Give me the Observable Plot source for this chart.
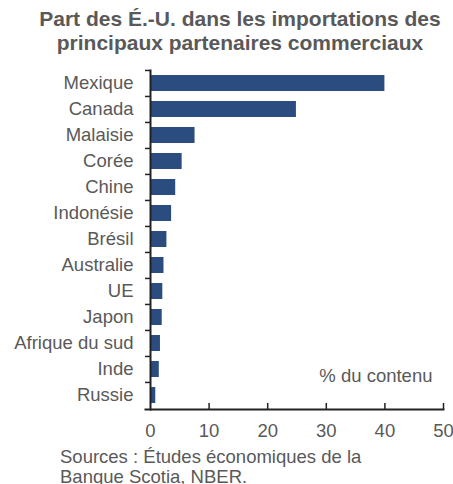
<!DOCTYPE html>
<html>
<head>
<meta charset="utf-8">
<script src="https://cdn.jsdelivr.net/npm/d3@7"></script>
<script src="https://cdn.jsdelivr.net/npm/@observablehq/plot@0.6"></script>
<style>
  html, body { margin: 0; padding: 0; background: #fff; }
  body { width: 453px; height: 484px; position: relative; overflow: hidden; font-family: "Liberation Sans", Arial, sans-serif; }
  #title { position: absolute; left: 27px; width: 426px; top: 7px; text-align: center; font-weight: bold; font-size: 21px; line-height: 24px; color: #595959; white-space: nowrap; }
  #caption { position: absolute; left: 60px; top: 447px; font-size: 18.5px; line-height: 20px; color: #595959; white-space: nowrap; }
  #chart { position: absolute; left: 0; top: 0; }
</style>
</head>
<body>
<div id="chart"></div>
<div id="title">Part des É.-U. dans les importations des<br>principaux partenaires commerciaux</div>
<div id="caption">Sources : Études économiques de la<br>Banque Scotia, NBER.</div>
<script>
const categories = ["Mexique", "Canada", "Malaisie", "Corée", "Chine", "Indonésie", "Brésil", "Australie", "UE", "Japon", "Afrique du sud", "Inde", "Russie"];
const values = [40.0, 24.9, 7.6, 5.4, 4.3, 3.6, 2.8, 2.3, 2.1, 2.0, 1.7, 1.5, 0.9];
const xTicks = [0, 10, 20, 30, 40, 50];
const unitLabel = "% du contenu";

const data = categories.map((c, i) => ({country: c, value: values[i]}));

const W = 453, H = 484, mTop = 70, mBottom = 75, mLeft = 150, mRight = 10;
const step = (H - mTop - mBottom) / categories.length;
const grey = "#595959";
const axisColor = "#222";
const fs = 18.5;

const chart = Plot.plot({
  width: W,
  height: H,
  marginTop: mTop,
  marginBottom: mBottom,
  marginLeft: mLeft,
  marginRight: mRight,
  style: {fontFamily: "'Liberation Sans', Arial, sans-serif", fontSize: fs + "px", color: grey, background: "transparent"},
  x: {domain: [0, 50], axis: null, label: null},
  y: {domain: categories, paddingInner: 0.38, paddingOuter: 0.19, axis: null, label: null},
  marks: [
    Plot.barX(data, {y: "country", x: "value", fill: "#2b4c7e"}),
    // y labels
    Plot.axisY({tickSize: 0, tickPadding: 17, fill: grey, fontSize: fs, label: null}),
    // y ticks at band boundaries
    Plot.axisY({tickSize: 5, text: null, dy: -step / 2, stroke: axisColor, strokeWidth: 1.5, label: null}),
    // x labels
    Plot.axisX({ticks: xTicks, tickSize: 0, tickPadding: 14, fill: grey, fontSize: fs, tickFormat: d => String(d), label: null}),
    // x ticks pointing up
    Plot.axisX({ticks: xTicks.slice(1), tickSize: 6, text: null, dy: -6, stroke: axisColor, strokeWidth: 1.5, label: null}),
    Plot.frame({anchor: "left", stroke: axisColor, strokeWidth: 2}),
    Plot.frame({anchor: "bottom", stroke: axisColor, strokeWidth: 2, insetLeft: -5}),
    Plot.text([unitLabel], {frameAnchor: "bottom-right", text: d => d, textAnchor: "end", dx: -11, dy: -28, fill: grey, fontSize: fs})
  ]
});
document.getElementById("chart").appendChild(chart);
</script>
</body>
</html>
